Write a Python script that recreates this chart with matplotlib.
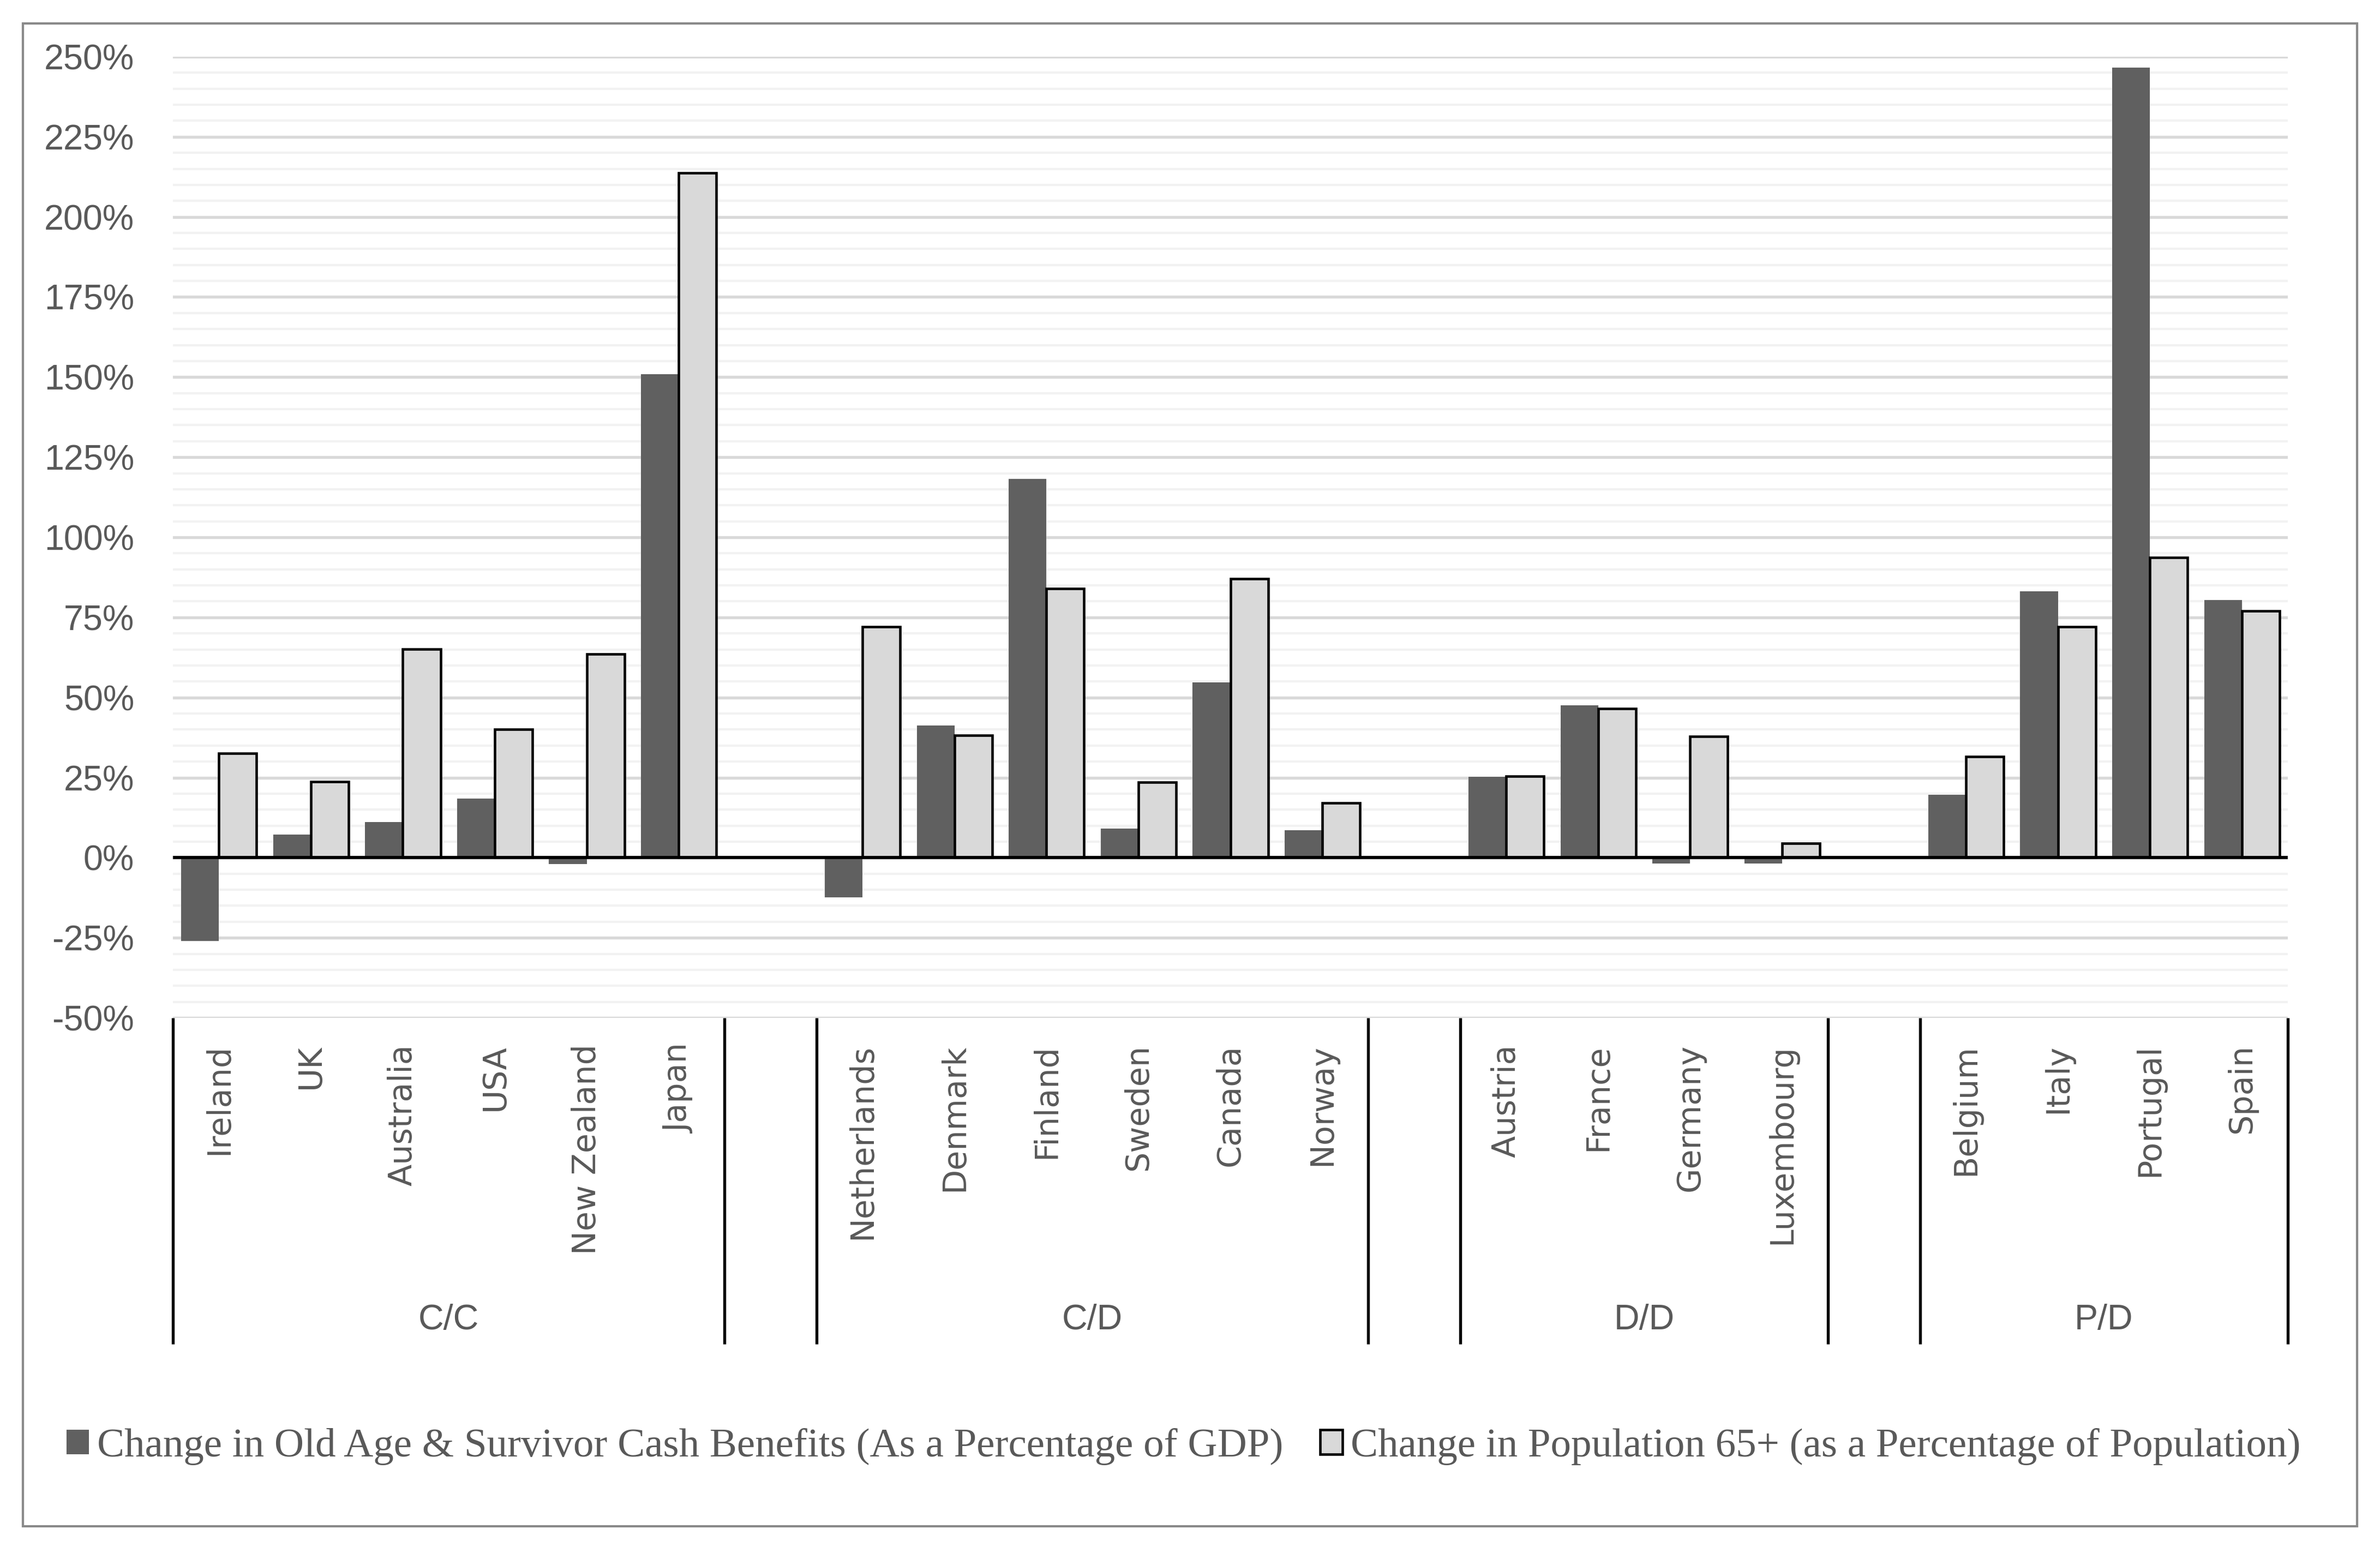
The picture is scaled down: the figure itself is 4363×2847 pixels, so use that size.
import matplotlib
matplotlib.use("Agg")
import matplotlib.pyplot as plt
from matplotlib.patches import Rectangle, Patch
import numpy as np

countries = ['Ireland', 'UK', 'Australia', 'USA', 'New Zealand', 'Japan',
             'Netherlands', 'Denmark', 'Finland', 'Sweden', 'Canada', 'Norway',
             'Austria', 'France', 'Germany', 'Luxembourg',
             'Belgium', 'Italy', 'Portugal', 'Spain']
groups = ['C/C', 'C/D', 'D/D', 'P/D']
group_sizes = [6, 6, 4, 4]
benefits = [-26.0, 7.2, 11.2, 18.5, -2.0, 150.9,
            -12.4, 41.2, 118.2, 9.0, 54.7, 8.6,
            25.2, 47.5, -1.8, -1.9,
            19.6, 83.1, 246.6, 80.4]
pop65 = [32.5, 23.7, 65.1, 40.0, 63.5, 213.8,
         72.0, 38.2, 84.0, 23.5, 87.0, 17.0,
         25.4, 46.5, 37.8, 4.5,
         31.5, 72.1, 93.7, 77.0]
series_names = ['Change in Old Age & Survivor Cash Benefits (As a Percentage of GDP)',
                'Change in Population 65+ (as a Percentage of Population)']
yticks = list(range(-50, 251, 25))

W, H = 4363, 2847
DPI = 300
fig = plt.figure(figsize=(W / DPI, H / DPI), dpi=DPI)

# positions with an empty slot between groups
positions = []
group_bounds = []
start = 0
for g, n in enumerate(group_sizes):
    group_bounds.append((start - 0.5, start + n - 0.5))
    positions.extend(range(start, start + n))
    start += n + 1
nslots = start - 1
positions = np.array(positions, dtype=float)

ax_l, ax_r = 317 / W, 4194 / W
ax_b, ax_t = 1 - 1866 / H, 1 - 104 / H
ax = fig.add_axes([ax_l, ax_b, ax_r - ax_l, ax_t - ax_b])
ax.set_xlim(-0.5, nslots - 0.5)
ax.set_ylim(-50, 250)

# gridlines
for v in range(-50, 251, 5):
    if v % 25 == 0:
        continue
    ax.axhline(v, color='#F2F2F2', lw=1.0, zorder=0)
for v in yticks:
    ax.axhline(v, color='#D9D9D9', lw=1.3, zorder=0.5)

bw = 0.41
ax.bar(positions - bw / 2, benefits, width=bw, color='#606060', zorder=2, linewidth=0)
ax.bar(positions + bw / 2, pop65, width=bw, color='#D9D9D9', edgecolor='black',
       linewidth=1.1, zorder=3)
ax.axhline(0, color='black', lw=1.4, zorder=4)

for s in ax.spines.values():
    s.set_visible(False)
ax.set_yticks(yticks)
ax.set_yticklabels([f'{v}%' for v in yticks],
                   fontfamily='Liberation Sans', fontsize=15.5, color='#595959')
ax.tick_params(axis='y', length=0, pad=17)
ax.set_xticks([])

trans = ax.get_xaxis_transform()
ax_h_px = 1866 - 104
y_lab = -(1914 - 1866) / ax_h_px
y_sep = -(2464 - 1866) / ax_h_px
y_grp = -(2437 - 1866) / ax_h_px

for x, name in zip(positions, countries):
    ax.text(x, y_lab, name, transform=trans, rotation=90, ha='center', va='top',
            fontsize=14.1, family='DejaVu Sans', color='#595959', clip_on=False)

sep_x = set()
for (a, b), gname in zip(group_bounds, groups):
    sep_x.add(a)
    sep_x.add(b)
    ax.text((a + b) / 2, y_grp, gname, transform=trans, ha='center', va='baseline',
            fontsize=15.5, family='Liberation Sans',
            color='#595959', clip_on=False)
for x in sorted(sep_x):
    ax.plot([x, x], [0, y_sep], transform=trans, color='black', lw=1.3,
            clip_on=False, solid_capstyle='butt')

handles = [Patch(facecolor='#606060', edgecolor='none'),
           Patch(facecolor='#D9D9D9', edgecolor='black', linewidth=1.1)]
leg = fig.legend(handles, series_names, loc='center', ncol=2,
                 bbox_to_anchor=(2170 / W, 1 - 2652 / H), frameon=False,
                 prop={'family': 'Liberation Serif', 'size': 18},
                 handlelength=0.55, handleheight=0.55, handletextpad=0.2,
                 columnspacing=0.9, borderpad=0, borderaxespad=0)
for t in leg.get_texts():
    t.set_color('#595959')

fig.add_artist(Rectangle((42 / W, 1 - 2798 / H), (4321 - 42) / W, (2798 - 43) / H,
                         transform=fig.transFigure, fill=False, edgecolor='#898989',
                         lw=1.0))

fig.savefig('out.png', dpi=DPI, facecolor='white')
